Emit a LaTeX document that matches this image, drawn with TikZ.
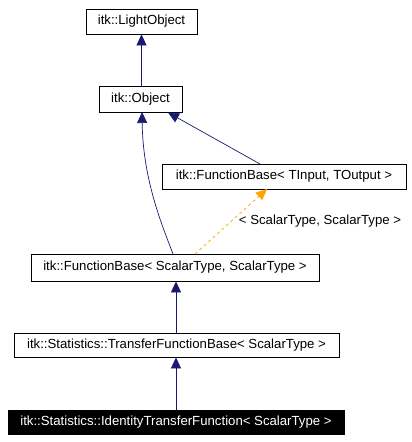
\documentclass[tikz,border=0pt]{standalone}
\usepackage{fontspec}
\setmainfont{Liberation Sans}
\usetikzlibrary{arrows.meta}
\definecolor{edgeblue}{RGB}{25,25,112}
\definecolor{edgeorange}{RGB}{255,165,0}
\tikzset{
  cls/.style={draw=black, fill=white, rectangle, inner sep=0pt, font=\fontsize{13.2}{15}\selectfont, line width=0.8pt},
  clsdark/.style={cls, fill=black, text=white},
  inh/.style={draw=edgeblue, line width=0.7pt, -{Triangle[length=11pt,width=10pt]}, edgeblue},
  tmpl/.style={draw=edgeorange, line width=0.7pt, dashed, -{Triangle[length=11pt,width=10pt]}, edgeorange},
  lbl/.style={font=\fontsize{13.2}{15}\selectfont, inner sep=0pt}
}
\begin{document}
\begin{tikzpicture}[x=1pt,y=-1pt]
\useasboundingbox (0,0) rectangle (412,442);
\node[cls, minimum width=111pt, minimum height=25pt] (light) at (141.5,21.5) {itk::LightObject};
\node[cls, minimum width=83pt, minimum height=26pt] (obj) at (140.5,99) {itk::Object};
\node[cls, minimum width=244pt, minimum height=25pt] (fbt) at (284,176.5) {itk::FunctionBase< TInput, TOutput >};
\node[cls, minimum width=288pt, minimum height=27pt] (fbs) at (175,267.5) {itk::FunctionBase< ScalarType, ScalarType >};
\node[cls, minimum width=325pt, minimum height=24pt] (tfb) at (176.5,345) {itk::Statistics::TransferFunctionBase< ScalarType >};
\node[clsdark, minimum width=336pt, minimum height=24pt] (itf) at (176,422) {itk::Statistics::IdentityTransferFunction< ScalarType >};
\coordinate (objb) at (142,112);
\coordinate (objbr) at (168,112.5);
\coordinate (fbstop) at (173,254);
\coordinate (fbstop2) at (195,254);
\coordinate (fbttop) at (260,164);
\coordinate (fbtbot) at (267,189);
\draw[inh] (obj.north -| light.south) -- (light.south);
\draw[inh] (fbstop) .. controls (162,225) and (143,180) .. (objb);
\draw[inh] (fbttop) -- (objbr);
\draw[tmpl] (fbstop2) -- (fbtbot);
\node[lbl] (tlabel) at (320,221) {< ScalarType, ScalarType >};
\draw[inh] (tfb.north -| 176,0) -- (fbs.south -| 176,0);
\draw[inh] (itf.north -| 176,0) -- (tfb.south -| 176,0);
\end{tikzpicture}
\end{document}
